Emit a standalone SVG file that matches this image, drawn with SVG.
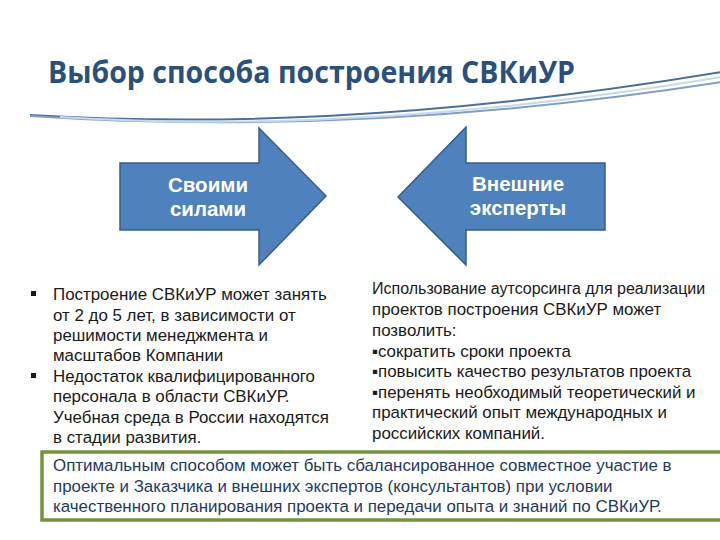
<svg xmlns="http://www.w3.org/2000/svg" width="720" height="540" viewBox="0 0 720 540">
<style>
.title{font-family:"Open Sans","Liberation Sans",sans-serif;font-weight:bold;font-size:30px;fill:#2b5079}
.arrow{fill:#4f81bd;stroke:#385d8a;stroke-width:1.5}
.alabel{font-family:"Liberation Sans",Arial,sans-serif;font-weight:bold;font-size:20.5px;fill:#ffffff;text-anchor:middle}
.body{font-family:"Liberation Sans",Arial,sans-serif;font-size:16.9px;fill:#1a1a1a}
.box{font-family:"Liberation Sans",Arial,sans-serif;font-size:16.9px;fill:#1f3a63}
</style>
<rect width="720" height="540" fill="#ffffff"/>
<g id="title">
<path d="M30 115 C 200 125, 420 122, 722 72" fill="none" stroke="#4a6f9c" stroke-width="2"/>
<path d="M30 116 C 210 128, 440 126, 722 82" fill="none" stroke="#7f9fc4" stroke-width="2"/>
<path d="M60 117 C 220 127, 440 124, 722 77" fill="none" stroke="#c9d8ea" stroke-width="2"/>
<text class="title" x="48" y="83" textLength="527" lengthAdjust="spacingAndGlyphs">Выбор способа построения СВКиУР</text>
</g>
<g id="arrow-own">
<path class="arrow" d="M120 163 L259 163 L259 128 L326 196 L259 265 L259 230 L120 230 Z"/>
<text class="alabel" x="208" y="192">Своими</text>
<text class="alabel" x="208" y="216">силами</text>
</g>
<g id="arrow-external">
<path class="arrow" d="M605 163 L466 163 L466 127 L398 197 L466 265 L466 230 L605 230 Z"/>
<text class="alabel" x="518" y="191">Внешние</text>
<text class="alabel" x="518" y="215">эксперты</text>
</g>
<g id="left-text">
<rect x="31" y="291" width="5" height="5" fill="#1a1a1a"/>
<rect x="31" y="373" width="5" height="5" fill="#1a1a1a"/>
<text class="body" x="53" y="300">Построение СВКиУР может занять</text>
<text class="body" x="53" y="320.5">от 2 до 5 лет, в зависимости от</text>
<text class="body" x="53" y="341">решимости менеджмента и</text>
<text class="body" x="53" y="361">масштабов Компании</text>
<text class="body" x="53" y="382">Недостаток квалифицированного</text>
<text class="body" x="53" y="402">персонала в области СВКиУР.</text>
<text class="body" x="53" y="422.5">Учебная среда в России находятся</text>
<text class="body" x="53" y="443">в стадии развития.</text>
</g>
<g id="right-text">
<text class="body" x="372" y="294" style="font-size:16px">Использование аутсорсинга для реализации</text>
<text class="body" x="372" y="315">проектов построения СВКиУР может</text>
<text class="body" x="372" y="336">позволить:</text>
<text class="body" x="372" y="357">▪сократить сроки проекта</text>
<text class="body" x="372" y="377">▪повысить качество результатов проекта</text>
<text class="body" x="372" y="398">▪перенять необходимый теоретический и</text>
<text class="body" x="372" y="418">практический опыт международных и</text>
<text class="body" x="372" y="439">российских компаний.</text>
</g>
<g id="summary-box">
<rect x="42" y="452" width="690" height="68" fill="#ffffff" stroke="#76923c" stroke-width="3.5"/>
<text class="box" x="53" y="471">Оптимальным способом может быть сбалансированное совместное участие в</text>
<text class="box" x="53" y="492">проекте и Заказчика и внешних экспертов (консультантов) при условии</text>
<text class="box" x="53" y="512">качественного планирования проекта и передачи опыта и знаний по СВКиУР.</text>
</g>
</svg>
